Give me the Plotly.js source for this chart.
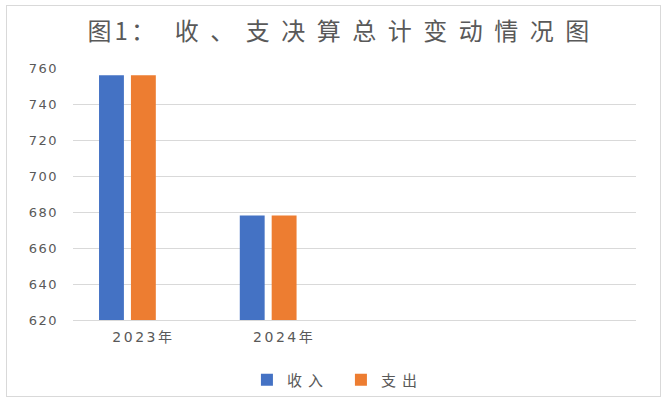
<!DOCTYPE html>
<html>
<head>
<meta charset="utf-8">
<script src="https://cdn.plot.ly/plotly-3.0.1.min.js"></script>
<style>
html, body { margin: 0; padding: 0; background: #fff; }
#wrap { position: relative; width: 671px; height: 404px; }
#frame { position: absolute; left: 6px; top: 5px; width: 655px; height: 392px; border: 1px solid #d9d9d9; box-sizing: border-box; pointer-events: none; z-index: 5; }
#chart { position: absolute; left: 0; top: 0; width: 671px; height: 404px; }
#chart .gtitle { letter-spacing: 11.5px; }
#chart .ytick text { letter-spacing: 1.5px; }
#chart .xtick text { letter-spacing: 2.5px; }
#chart .legendtext { letter-spacing: 6px; }
</style>
</head>
<body>
<div id="wrap"><div id="chart"></div><div id="frame"></div></div>
<script>
const categories = ['2023年', '2024年'];
const income = [756, 678];
const expense = [756, 678];
const emptySeries = [null, null];
const seriesNames = ['收入', '支出'];
const yTicks = [620, 640, 660, 680, 700, 720, 740, 760];
const titlePrefix = '图1：';
const titleMain = ' 收、支决算总计变动情况图';

const tickFont = { family: 'DejaVu Sans, sans-serif', size: 13, color: '#595959' };

const traces = [
  { type: 'bar', x: categories, y: income, name: seriesNames[0], marker: { color: '#4472C4' } },
  { type: 'bar', x: categories, y: expense, name: seriesNames[1], marker: { color: '#ED7D31' } },
  { type: 'bar', x: categories, y: emptySeries, name: '', showlegend: false, hoverinfo: 'skip', marker: { color: 'rgba(0,0,0,0)' } }
];

const layout = {
  width: 671, height: 404,
  paper_bgcolor: '#ffffff', plot_bgcolor: '#ffffff',
  margin: { l: 73, r: 35, t: 68, b: 84, autoexpand: false },
  title: {
    text: '<span style="letter-spacing:3px">' + titlePrefix + '</span>' + titleMain,
    font: { family: 'Noto Sans CJK SC, sans-serif', size: 24, color: '#595959' },
    x: 0.513, xanchor: 'center', xref: 'container',
    y: 1 - 32 / 404, yanchor: 'middle', yref: 'container'
  },
  barmode: 'group',
  bargap: 0.32,
  bargroupgap: 0.22,
  showlegend: true,
  legend: {
    orientation: 'h', x: 0.368, xanchor: 'left', xref: 'container',
    y: 1 - 380 / 404, yanchor: 'middle', yref: 'container',
    font: { family: 'Noto Sans CJK SC, sans-serif', size: 15, color: '#595959' },
    itemwidth: 30, traceorder: 'normal',
    entrywidth: 49, entrywidthmode: 'pixels'
  },
  xaxis: {
    type: 'category',
    range: [-0.5, 3.5],
    showgrid: false,
    showline: true, linecolor: '#d9d9d9', linewidth: 1,
    ticks: '',
    tickfont: { family: 'DejaVu Sans, Noto Sans CJK SC, sans-serif', size: 14, color: '#595959' },
    ticklabelstandoff: 4,
    zeroline: false
  },
  yaxis: {
    range: [620, 760],
    tickvals: yTicks,
    ticktext: yTicks.map(String),
    showgrid: true, gridcolor: '#d9d9d9', gridwidth: 1,
    showline: false, zeroline: false,
    ticks: '',
    tickfont: tickFont,
    ticklabelstandoff: 14
  }
};

Plotly.newPlot('chart', traces, layout, { displayModeBar: false, staticPlot: true });
</script>
</body>
</html>
